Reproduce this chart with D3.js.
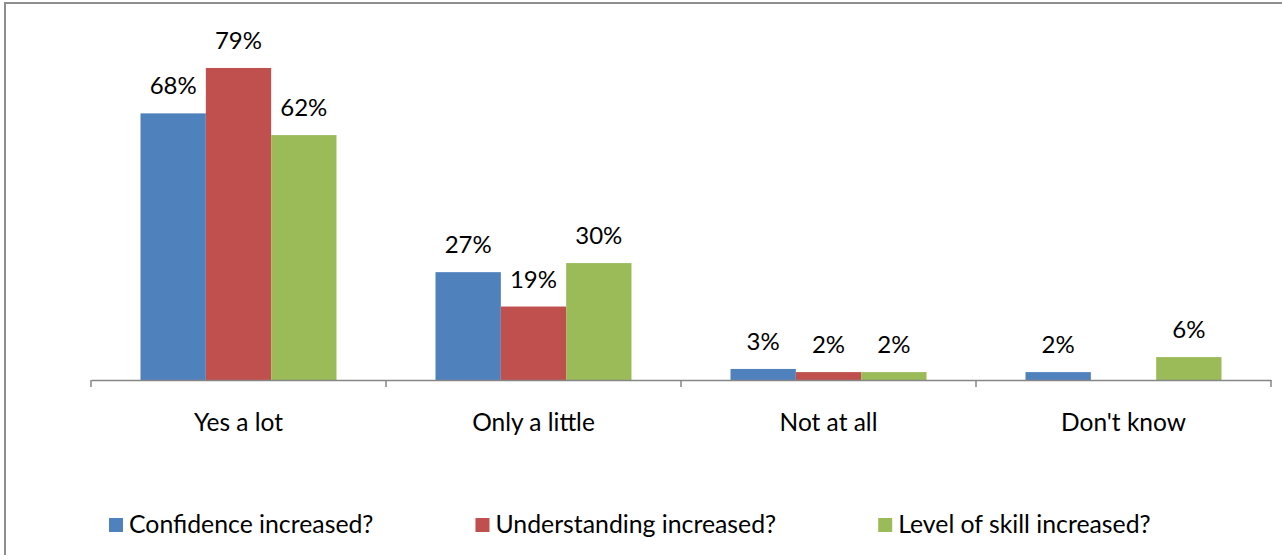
<!DOCTYPE html>
<html>
<head>
<meta charset="utf-8">
<script src="https://cdn.jsdelivr.net/npm/d3@7"></script>
<style>
  html, body { margin: 0; padding: 0; background: #fff; }
  svg { display: block; }
  text { font-family: Lato, "Open Sans", sans-serif; fill: #000; }
</style>
</head>
<body>
<svg id="chart" width="1282" height="555"></svg>
<script>
// ---- data ----
const categories = ["Yes a lot", "Only a little", "Not at all", "Don't know"];
const seriesNames = ["Confidence increased?", "Understanding increased?", "Level of skill increased?"];
const confidence = [67.5, 27.3, 2.8, 2.0];
const understanding = [79.0, 18.6, 2.0, 0];
const skill = [62.0, 29.6, 2.0, 5.8];
const seriesColors = ["#4F81BD", "#C0504D", "#9BBB59"];
const yMax = 90;

const seriesValues = [confidence, understanding, skill];

const svg = d3.select("#chart");
const W = 1282, H = 555;

// chart border (left and top visible)
svg.append("rect")
  .attr("x", 5).attr("y", 3)
  .attr("width", W + 10).attr("height", H + 10)
  .attr("fill", "#fff")
  .attr("stroke", "#8E8E8E").attr("stroke-width", 2);

const plot = { left: 91, right: 1271, top: 24.5, bottom: 380 };

const x0 = d3.scaleBand().domain(categories).range([plot.left, plot.right]).paddingInner(0).paddingOuter(0);
const groupPad = 49.5;
const x1 = d3.scaleBand().domain(seriesNames).range([groupPad, x0.bandwidth() - groupPad]).padding(0);
const y = d3.scaleLinear().domain([0, yMax]).range([plot.bottom, plot.top]);

// bars
const data = [];
categories.forEach((c, ci) => {
  seriesNames.forEach((s, si) => {
    data.push({ cat: c, series: s, si, value: seriesValues[si][ci] });
  });
});

const g = svg.append("g");
g.selectAll("rect.bar").data(data.filter(d => d.value > 0)).join("rect")
  .attr("class", "bar")
  .attr("x", d => x0(d.cat) + x1(d.series))
  .attr("y", d => y(d.value))
  .attr("width", x1.bandwidth())
  .attr("height", d => y(0) - y(d.value))
  .attr("fill", d => seriesColors[d.si]);

// value labels
g.selectAll("text.val").data(data.filter(d => d.value > 0)).join("text")
  .attr("class", "val")
  .attr("x", d => x0(d.cat) + x1(d.series) + x1.bandwidth() / 2)
  .attr("y", d => y(d.value) - 19)
  .attr("text-anchor", "middle")
  .style("font-size", "24px")
  .text(d => Math.round(d.value) + "%");

// x axis
const axis = d3.axisBottom(x0).tickSize(0).tickSizeOuter(0);
const ax = svg.append("g").attr("transform", `translate(0,${plot.bottom})`).call(axis);
ax.select(".domain").attr("stroke", "#868686").attr("stroke-width", 1.5);
ax.selectAll(".tick text").style("font-size", "24.5px").attr("y", 0).attr("dy", 0)
  .attr("transform", "translate(0,51)");
// category boundary ticks
const boundaries = categories.map(c => x0(c)).concat([plot.right]);
ax.selectAll("line.bnd").data(boundaries).join("line")
  .attr("class", "bnd")
  .attr("x1", d => d).attr("x2", d => d)
  .attr("y1", 0).attr("y2", 7)
  .attr("stroke", "#868686").attr("stroke-width", 1.5);

// legend
const leg = svg.append("g").attr("transform", "translate(109,0)");
let lx = 0;
seriesNames.forEach((s, i) => {
  const item = leg.append("g").attr("transform", `translate(${lx},0)`);
  item.append("rect").attr("x", 0).attr("y", 518).attr("width", 14).attr("height", 14)
    .attr("fill", seriesColors[i]);
  const t = item.append("text").attr("x", 20).attr("y", 533).style("font-size", "24.8px").text(s);
  const w = t.node().getComputedTextLength();
  lx += 20 + w + 102;
});
</script>
</body>
</html>
